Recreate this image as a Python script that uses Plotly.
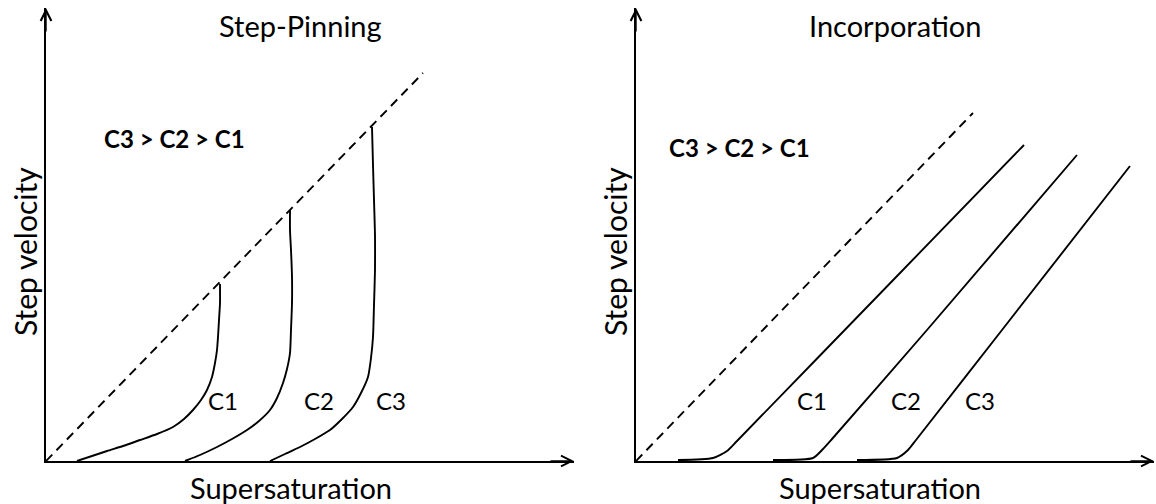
import plotly.graph_objects as go

# ---------------- data (arbitrary schematic units) ----------------
# Left panel: Step-Pinning
sp_ideal_x = [0.0, 7.54]
sp_ideal_y = [0.0, 7.76]
sp_c1_x = [0.62, 0.92, 1.22, 1.54, 1.88, 2.22, 2.54, 2.76, 2.94, 3.10, 3.22, 3.32, 3.38, 3.42, 3.44, 3.46, 3.48, 3.48]
sp_c1_y = [0.00, 0.10, 0.20, 0.30, 0.42, 0.54, 0.68, 0.84, 1.02, 1.22, 1.42, 1.68, 1.96, 2.22, 2.48, 2.82, 3.16, 3.54]
sp_c2_x = [2.78, 3.08, 3.42, 3.72, 4.02, 4.26, 4.48, 4.62, 4.74, 4.82, 4.88, 4.90, 4.92, 4.92, 4.90, 4.88, 4.88]
sp_c2_y = [0.00, 0.12, 0.28, 0.44, 0.62, 0.80, 1.02, 1.26, 1.56, 1.84, 2.16, 2.62, 3.16, 3.68, 4.22, 4.62, 5.02]
sp_c3_x = [4.48, 4.78, 5.08, 5.38, 5.68, 5.92, 6.14, 6.30, 6.44, 6.50, 6.54, 6.56, 6.58, 6.58, 6.56, 6.54, 6.52]
sp_c3_y = [0.00, 0.14, 0.28, 0.44, 0.62, 0.84, 1.08, 1.36, 1.68, 2.06, 2.48, 3.12, 3.82, 4.52, 5.22, 5.92, 6.68]

# Right panel: Incorporation
inc_ideal_x = [0.0, 6.74]
inc_ideal_y = [0.0, 6.96]
inc_c1_x = [0.84, 1.54, 1.82, 2.02, 5.28, 7.76]
inc_c1_y = [0.02, 0.06, 0.20, 0.40, 3.76, 6.32]
inc_c2_x = [2.74, 3.54, 3.74, 3.92, 5.82, 8.82]
inc_c2_y = [0.02, 0.06, 0.24, 0.44, 2.62, 6.12]
inc_c3_x = [4.42, 5.22, 5.44, 5.60, 7.32, 9.88]
inc_c3_y = [0.02, 0.06, 0.22, 0.42, 2.62, 5.90]

curve_names = ["C1", "C2", "C3"]
panel_titles = ["Step-Pinning", "Incorporation"]
x_label = "Supersaturation"
y_label = "Step velocity"
order_note = "C3 > C2 > C1"

# label anchor positions (data units)
sp_label_x = [3.54, 5.46, 6.90]
inc_label_x = [3.52, 5.40, 6.88]
label_y = 1.22

W, H = 1156, 504
FONT = "Lato"
LW = 1.9

fig = go.Figure()

dash_style = dict(color="black", width=LW, dash="9px,6px")
line_style = dict(color="black", width=LW, shape="spline", smoothing=0.6)

# left panel traces
fig.add_trace(go.Scatter(x=sp_ideal_x, y=sp_ideal_y, mode="lines", line=dash_style,
                         xaxis="x", yaxis="y", hoverinfo="skip"))
for xs, ys in [(sp_c1_x, sp_c1_y), (sp_c2_x, sp_c2_y), (sp_c3_x, sp_c3_y)]:
    fig.add_trace(go.Scatter(x=xs, y=ys, mode="lines", line=line_style,
                             xaxis="x", yaxis="y", hoverinfo="skip"))

# right panel traces
fig.add_trace(go.Scatter(x=inc_ideal_x, y=inc_ideal_y, mode="lines", line=dash_style,
                         xaxis="x2", yaxis="y2", hoverinfo="skip"))
for xs, ys in [(inc_c1_x, inc_c1_y), (inc_c2_x, inc_c2_y), (inc_c3_x, inc_c3_y)]:
    fig.add_trace(go.Scatter(x=xs, y=ys, mode="lines", line=line_style,
                             xaxis="x2", yaxis="y2", hoverinfo="skip"))

# axis geometry (pixel layout)
left_px = (46, 574)
right_px = (636, 1154)
bottom_px, top_px = 461, 8
unit = 50.0

def dom(px):
    return [px[0] / W, px[1] / W]

ydom = [(H - bottom_px) / H, (H - top_px) / H]
yrange = [0, (bottom_px - top_px) / unit]

ax_common = dict(showgrid=False, zeroline=False, showticklabels=False, ticks="",
                 showline=True, linecolor="black", linewidth=1.6, fixedrange=True)

fig.update_layout(
    width=W, height=H,
    margin=dict(l=0, r=0, t=0, b=0),
    paper_bgcolor="white", plot_bgcolor="white",
    showlegend=False,
    font=dict(family=FONT, color="black"),
    xaxis=dict(domain=dom(left_px), range=[0, (left_px[1] - left_px[0]) / unit], anchor="y", **ax_common),
    yaxis=dict(domain=ydom, range=yrange, anchor="x", **ax_common),
    xaxis2=dict(domain=dom(right_px), range=[0, (right_px[1] - right_px[0]) / unit], anchor="y2", **ax_common),
    yaxis2=dict(domain=ydom, range=yrange, anchor="x2", **ax_common),
)

annotations = []
# arrowheads at axis ends
for xa, ya, px in [("x", "y", left_px), ("x2", "y2", right_px)]:
    xmax = (px[1] - px[0]) / unit
    ymax = yrange[1]
    annotations.append(dict(x=xmax, y=0, ax=xmax - 0.5, ay=0, xref=xa, yref=ya,
                            axref=xa, ayref=ya, showarrow=True, arrowhead=5,
                            arrowsize=1.5, arrowwidth=1.4, arrowcolor="black", text=""))
    annotations.append(dict(x=0, y=ymax, ax=0, ay=ymax - 0.5, xref=xa, yref=ya,
                            axref=xa, ayref=ya, showarrow=True, arrowhead=5,
                            arrowsize=1.5, arrowwidth=1.4, arrowcolor="black", text=""))

# panel titles
for cx, t in zip([300, 895], panel_titles):
    annotations.append(dict(x=cx / W, y=(H - 25) / H, xref="paper", yref="paper",
                            text=t, showarrow=False, font=dict(size=29, family=FONT),
                            xanchor="center", yanchor="middle"))

# x labels
for cx in [291, 880]:
    annotations.append(dict(x=cx / W, y=(H - 487) / H, xref="paper", yref="paper",
                            text=x_label, showarrow=False, font=dict(size=29, family=FONT),
                            xanchor="center", yanchor="middle"))
# y labels
for cx in [25, 615]:
    annotations.append(dict(x=cx / W, y=(H - 252) / H, xref="paper", yref="paper",
                            text=y_label, showarrow=False, textangle=-90,
                            font=dict(size=30, family=FONT),
                            xanchor="center", yanchor="middle"))

# order note (bold)
for cx, cy in [(174, 138), (739, 148)]:
    annotations.append(dict(x=cx / W, y=(H - cy) / H, xref="paper", yref="paper",
                            text="<b>" + order_note + "</b>", showarrow=False,
                            font=dict(size=24, family=FONT),
                            xanchor="center", yanchor="middle"))

# curve labels
for xs, xa, ya in [(sp_label_x, "x", "y"), (inc_label_x, "x2", "y2")]:
    for lx, name in zip(xs, curve_names):
        annotations.append(dict(x=lx, y=label_y, xref=xa, yref=ya, text=name,
                                showarrow=False, font=dict(size=24, family=FONT),
                                xanchor="center", yanchor="middle"))

fig.update_layout(annotations=annotations)
fig.write_html("out.html", config={"displayModeBar": False},
               post_script="document.body.style.margin='0px';")
